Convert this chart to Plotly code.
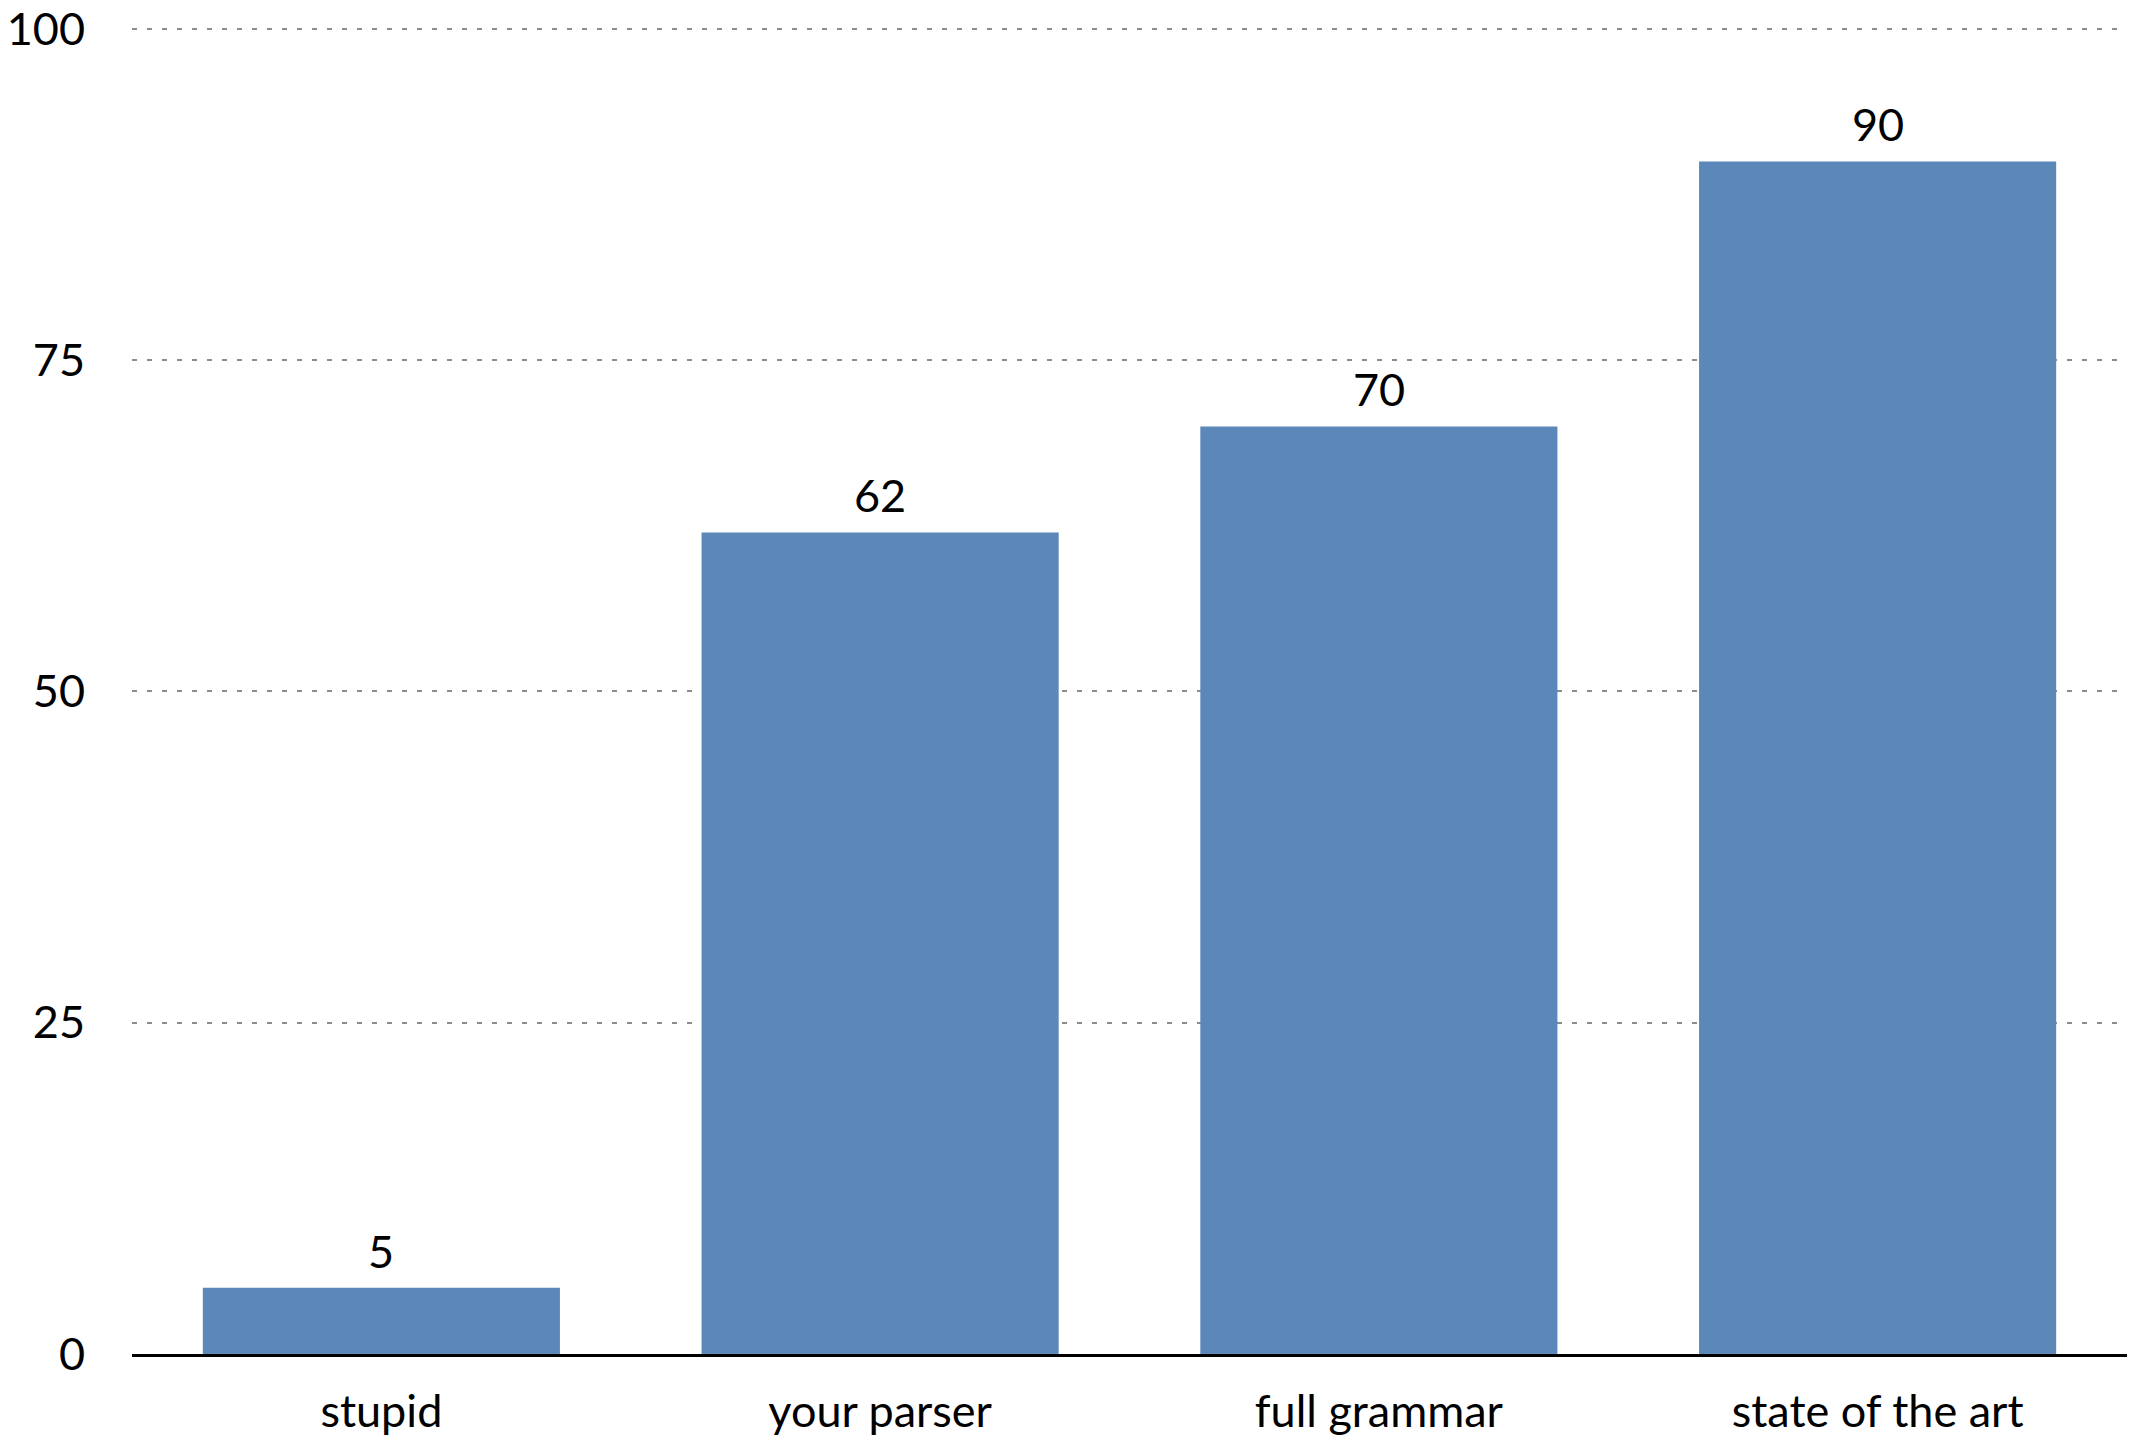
import plotly.graph_objects as go

categories = ["stupid", "your parser", "full grammar", "state of the art"]
values = [5, 62, 70, 90]
y_ticks = [0, 25, 50, 75, 100]

BAR_COLOR = "#5b88b9"
FONT = "Lato"
FS = 45

fig = go.Figure(
    go.Bar(
        x=categories,
        y=values,
        marker=dict(color=BAR_COLOR, line=dict(width=0)),
        hoverinfo="skip",
    )
)

for c, v in zip(categories, values):
    fig.add_annotation(
        x=c, y=v, text=str(v), showarrow=False,
        yanchor="bottom", yshift=8,
        font=dict(family=FONT, size=FS, color="black"),
    )

fig.update_layout(
    template="none",
    width=2138,
    height=1436,
    margin=dict(l=132, r=11, t=25, b=82, autoexpand=False),
    paper_bgcolor="white",
    plot_bgcolor="white",
    bargap=0.284,
    showlegend=False,
    font=dict(family=FONT, size=FS, color="black"),
)

fig.update_xaxes(
    automargin=False,
    showline=True,
    linecolor="black",
    linewidth=3,
    showgrid=False,
    zeroline=False,
    ticks="",
    tickfont=dict(family=FONT, size=FS, color="black"),
    ticklabelstandoff=16,
)

fig.update_yaxes(
    automargin=False,
    range=[0, 100.3],
    tickvals=y_ticks,
    ticktext=[str(t) for t in y_ticks],
    showgrid=True,
    gridcolor="#8c8c8c",
    gridwidth=2,
    griddash="5px,10px",
    zeroline=False,
    showline=False,
    ticks="",
    tickfont=dict(family=FONT, size=FS, color="black"),
    ticklabelstandoff=46,
)

fig.write_html(
    "out.html",
    config={"displayModeBar": False},
    post_script="document.body.style.margin='0';",
)
